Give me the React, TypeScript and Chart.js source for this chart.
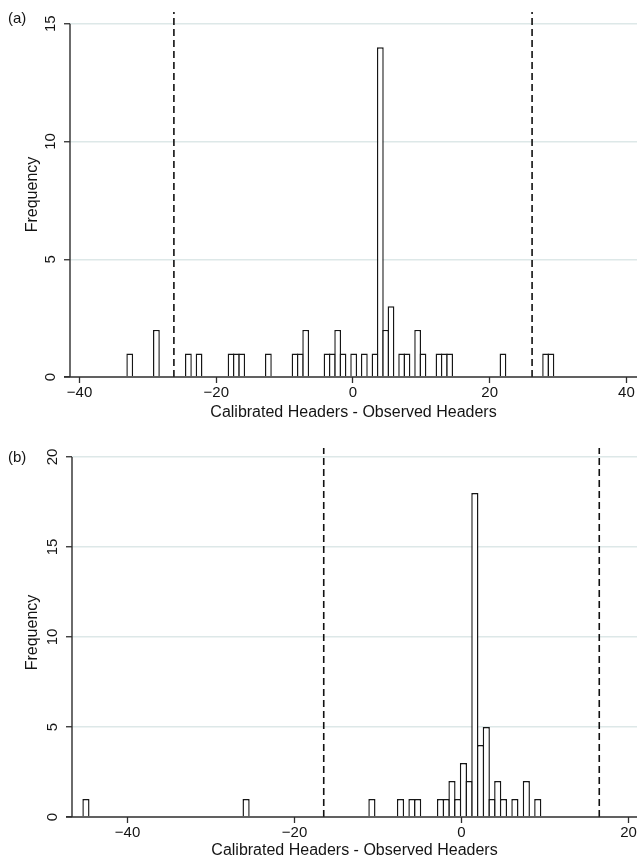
import React, { useEffect, useRef } from 'react';
import { Chart, registerables } from 'chart.js';

Chart.register(...registerables);
Chart.defaults.font.family = "'Liberation Sans', Arial, Helvetica, sans-serif";

// ---------- Panel (a) ----------
const binCentersA = [-32.66, -28.76, -24.08, -22.52, -17.84, -17.06, -16.28, -12.38, -8.48, -7.7, -6.92, -3.8, -3.02, -2.24, -1.46, 0.1, 1.66, 3.22, 4.0, 4.78, 5.56, 7.12, 7.9, 9.46, 10.24, 12.58, 13.36, 14.14, 21.94, 28.18, 28.96];
const countsA = [1, 2, 1, 1, 1, 1, 1, 1, 1, 1, 2, 1, 1, 2, 1, 1, 1, 1, 14, 2, 3, 1, 1, 2, 1, 1, 1, 1, 1, 1, 1];
const binWidthA = 0.78;
const cutoffsA = [-26.2, 26.2];
const xTicksA = [-40, -20, 0, 20, 40];
const xTickLabelsA = ['\u221240', '\u221220', '0', '20', '40'];
const yTicksA = [0, 5, 10, 15];
const yTickLabelsA = ['0', '5', '10', '15'];

// ---------- Panel (b) ----------
const binCentersB = [-44.98, -25.8, -10.73, -7.305, -5.935, -5.25, -2.51, -1.825, -1.14, -0.455, 0.23, 0.915, 1.6, 2.285, 2.97, 3.655, 4.34, 5.025, 6.395, 7.765, 9.135];
const countsB = [1, 1, 1, 1, 1, 1, 1, 1, 2, 1, 3, 2, 18, 4, 5, 1, 2, 1, 1, 2, 1];
const binWidthB = 0.685;
const cutoffsB = [-16.5, 16.5];
const xTicksB = [-40, -20, 0, 20];
const xTickLabelsB = ['\u221240', '\u221220', '0', '20'];
const yTicksB = [0, 5, 10, 15, 20];
const yTickLabelsB = ['0', '5', '10', '15', '20'];

const X_TITLE = 'Calibrated Headers - Observed Headers';
const Y_TITLE = 'Frequency';

const BAR_BORDER = 1.45;
const AXIS_COLOR = '#2e2e2e';
const GRID_COLOR = '#dde8e8';
const TEXT_COLOR = '#141414';

type PanelProps = {
  label: string;
  top: number;
  width: number;
  height: number;
  plotLeft: number;
  padTop: number;
  xAxisHeight: number;
  xMin: number;
  xMax: number;
  yMax: number;
  centers: number[];
  counts: number[];
  binWidth: number;
  cutoffs: number[];
  xTicks: number[];
  xTickLabels: string[];
  yTicks: number[];
  yTickLabels: string[];
  xTickPad: number;
  xTitlePadBottom: number;
  labelTop: number;
};

const axisLinePlugin = {
  id: 'axisLines',
  afterDraw(chart: any, _args: any, opts: any) {
    const { ctx, chartArea } = chart;
    const ys = chart.scales.y;
    const y0 = ys.getPixelForValue(0);
    const yTop = ys.getPixelForValue(opts.yTop);
    ctx.save();
    ctx.strokeStyle = AXIS_COLOR;
    ctx.lineWidth = 1.4;
    ctx.beginPath();
    ctx.moveTo(chartArea.left - 6, y0);
    ctx.lineTo(chartArea.right, y0);
    ctx.moveTo(chartArea.left, y0);
    ctx.lineTo(chartArea.left, yTop);
    ctx.stroke();
    ctx.restore();
  },
};

function Panel(p: PanelProps) {
  const ref = useRef<HTMLCanvasElement | null>(null);
  useEffect(() => {
    if (!ref.current) return;
    const plotW = p.width - p.plotLeft;
    const pxPerUnit = plotW / (p.xMax - p.xMin);
    const binPx = p.binWidth * pxPerUnit;
    const barPct = (binPx + BAR_BORDER) / binPx;
    const yTopTick = p.yTicks[p.yTicks.length - 1];

    const chart = new Chart(ref.current, {
      type: 'bar',
      data: {
        datasets: [
          {
            type: 'bar',
            data: p.centers.map((x, i) => ({ x, y: p.counts[i] })),
            backgroundColor: '#ffffff',
            borderColor: '#161616',
            borderWidth: BAR_BORDER,
            barPercentage: barPct,
            categoryPercentage: 1,
            inflateAmount: 0,
            order: 2,
          } as any,
          ...p.cutoffs.map((c) => ({
            type: 'line',
            data: [
              { x: c, y: 0 },
              { x: c, y: p.yMax },
            ],
            borderColor: '#111111',
            borderWidth: 1.6,
            borderDash: [7, 4],
            pointRadius: 0,
            fill: false,
            order: 1,
          } as any)),
        ],
      },
      options: {
        animation: false,
        responsive: false,
        maintainAspectRatio: false,
        layout: { padding: { top: p.padTop, left: 0, right: 0, bottom: 0 } },
        plugins: {
          legend: { display: false },
          tooltip: { enabled: false },
          title: { display: false },
          axisLines: { yTop: yTopTick },
        } as any,
        scales: {
          x: {
            type: 'linear',
            min: p.xMin,
            max: p.xMax,
            offset: false,
            afterBuildTicks: (s: any) => {
              s.ticks = p.xTicks.map((v) => ({ value: v }));
            },
            afterFit: (s: any) => {
              s.height = p.xAxisHeight;
              s.paddingLeft = 0;
              s.paddingRight = 0;
            },
            grid: {
              offset: false,
              drawOnChartArea: false,
              drawTicks: true,
              tickLength: 6,
              tickColor: AXIS_COLOR,
              tickWidth: 1.3,
            },
            border: { display: false },
            ticks: {
              padding: p.xTickPad,
              autoSkip: false,
              maxRotation: 0,
              minRotation: 0,
              color: TEXT_COLOR,
              font: { size: 15 },
              callback: (_v: any, i: number) => p.xTickLabels[i],
            },
            title: {
              display: true,
              text: X_TITLE,
              color: TEXT_COLOR,
              font: { size: 16 },
              padding: { top: 0, bottom: p.xTitlePadBottom },
            },
          },
          y: {
            type: 'linear',
            min: 0,
            max: p.yMax,
            afterBuildTicks: (s: any) => {
              s.ticks = p.yTicks.map((v) => ({ value: v }));
            },
            afterFit: (s: any) => {
              s.width = p.plotLeft;
              s.paddingTop = 0;
              s.paddingBottom = 0;
            },
            grid: {
              color: (ctx: any) => (ctx.tick && ctx.tick.value === 0 ? 'rgba(0,0,0,0)' : GRID_COLOR),
              lineWidth: 1.5,
              drawTicks: true,
              tickLength: 6,
              tickColor: AXIS_COLOR,
              tickWidth: 1.3,
            },
            border: { display: false },
            ticks: {
              padding: 4.6,
              autoSkip: false,
              minRotation: 90,
              maxRotation: 90,
              crossAlign: 'center',
              color: TEXT_COLOR,
              font: { size: 15 },
              callback: (_v: any, i: number) => p.yTickLabels[i],
            },
            title: {
              display: true,
              text: Y_TITLE,
              color: TEXT_COLOR,
              font: { size: 16 },
              padding: { top: 23.4, bottom: 0 },
            },
          },
        } as any,
      },
      plugins: [axisLinePlugin as any],
    });
    return () => chart.destroy();
  }, []);

  return (
    <>
      <canvas
        ref={ref}
        width={p.width}
        height={p.height}
        style={{ position: 'absolute', left: 0, top: p.top, width: p.width, height: p.height }}
      />
      <div
        style={{
          position: 'absolute',
          left: 8,
          top: p.labelTop,
          fontFamily: "'Liberation Sans', Arial, sans-serif",
          fontSize: 15,
          lineHeight: '20px',
          color: TEXT_COLOR,
        }}
      >
        {p.label}
      </div>
    </>
  );
}

export default function App() {
  return (
    <div style={{ position: 'absolute', left: 0, top: 0, width: 637, height: 862, overflow: 'hidden', background: '#ffffff' }}>
      <Panel
        label="(a)"
        top={0}
        width={637}
        height={430}
        plotLeft={70}
        padTop={12}
        xAxisHeight={53}
        xMin={-41.4}
        xMax={41.55}
        yMax={15.5}
        centers={binCentersA}
        counts={countsA}
        binWidth={binWidthA}
        cutoffs={cutoffsA}
        xTicks={xTicksA}
        xTickLabels={xTickLabelsA}
        yTicks={yTicksA}
        yTickLabels={yTickLabelsA}
        xTickPad={0.5}
        xTitlePadBottom={7.4}
        labelTop={8}
      />
      <Panel
        label="(b)"
        top={430}
        width={637}
        height={432}
        plotLeft={72}
        padTop={18}
        xAxisHeight={45}
        xMin={-46.65}
        xMax={21.02}
        yMax={20.5}
        centers={binCentersB}
        counts={countsB}
        binWidth={binWidthB}
        cutoffs={cutoffsB}
        xTicks={xTicksB}
        xTickLabels={xTickLabelsB}
        yTicks={yTicksB}
        yTickLabels={yTickLabelsB}
        xTickPad={1}
        xTitlePadBottom={1.7}
        labelTop={447}
      />
    </div>
  );
}
